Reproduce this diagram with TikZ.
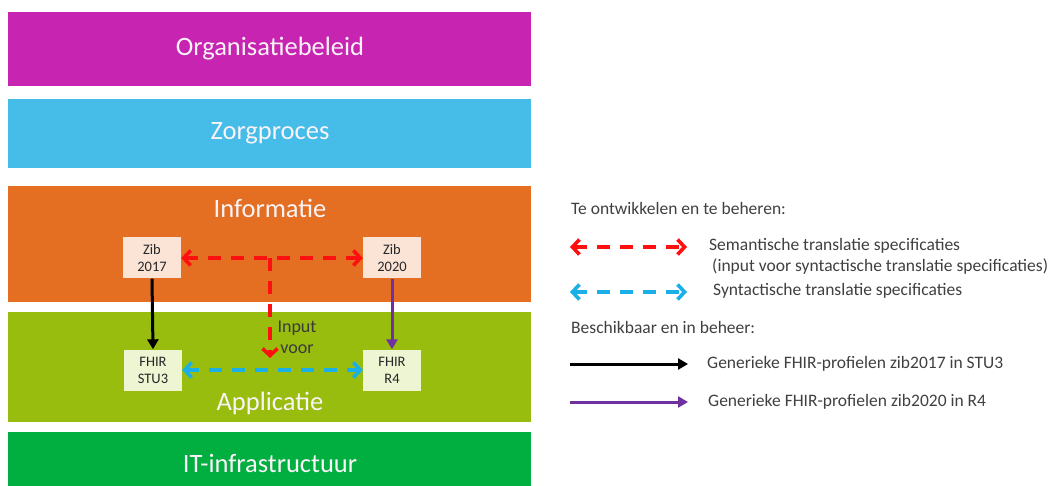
\documentclass[tikz,border=0pt]{standalone}
\usepackage{fontspec}
\setmainfont{Carlito}
\usetikzlibrary{arrows.meta}
\definecolor{cPurple}{HTML}{C724B1}
\definecolor{cBlue}{HTML}{45BDE8}
\definecolor{cOrange}{HTML}{E46F22}
\definecolor{cLime}{HTML}{98BD0E}
\definecolor{cGreen}{HTML}{00AF3F}
\definecolor{cPeach}{HTML}{FBE4D5}
\definecolor{cPale}{HTML}{EEF5D3}
\definecolor{cRed}{HTML}{FF1010}
\definecolor{cSky}{HTML}{1AAFE6}
\definecolor{cViolet}{HTML}{7030A0}
\definecolor{cTxt}{HTML}{404040}
\definecolor{cBandTxt}{HTML}{FAF3F8}
\tikzset{
  band/.style={fill=#1, draw=none},
  bandlabel/.style={text=cBandTxt, font=\fontsize{26.5}{28}\selectfont},
  smallbox/.style={fill=#1, draw=none, minimum width=58pt, minimum height=41pt, inner sep=0pt, align=center, text=black!85, font=\fontsize{14.5}{17}\selectfont},
  dasharrow/.style={draw=#1, line width=3.6pt, dash pattern=on 13pt off 10pt, {Straight Barb[length=7pt,width=15pt,line width=3.6pt]}-{Straight Barb[length=7pt,width=15pt,line width=3.6pt]}},
  onearrow/.style={draw=#1, line width=3.6pt, dash pattern=on 13pt off 10pt, -{Straight Barb[length=7pt,width=15pt,line width=3.6pt]}},
  solidarrow/.style={draw=#1, line width=3pt, -{Triangle[length=10pt,width=11pt]}},
  legtext/.style={anchor=west, text=cTxt, font=\fontsize{17.5}{20}\selectfont, inner sep=0pt},
}
\begin{document}
\begin{tikzpicture}[x=1pt,y=-1pt]
\useasboundingbox (0,0) rectangle (1052,486);
\fill[white] (0,0) rectangle (1052,486);
% bands
\fill[band=cPurple] (8,12) rectangle (531,86);
\fill[band=cBlue] (8,99) rectangle (531,168);
\fill[band=cOrange] (8,186) rectangle (531,302);
\fill[band=cLime] (8,312) rectangle (531,422);
\fill[band=cGreen] (8,432) rectangle (531,486);
\node[bandlabel] (lorg) at (270,49) {Organisatiebeleid};
\node[bandlabel] (lzorg) at (270,133) {Zorgproces};
\node[bandlabel] (linfo) at (270,208) {Informatie};
\node[bandlabel] (lapp) at (270,403) {Applicatie};
\node[bandlabel] (lit) at (270,463) {IT-infrastructuur};
% boxes
\node[smallbox=cPeach] (z17) at (152,258) {Zib\\2017};
\node[smallbox=cPeach] (z20) at (392,258) {Zib\\2020};
\node[smallbox=cPale] (f3) at (153,370) {FHIR\\STU3};
\node[smallbox=cPale] (f4) at (392,370) {FHIR\\R4};
% connectors
\draw[dasharrow=cRed] (z17.east) -- (z20.west);
\coordinate (tjoin) at (270,258);
\coordinate (tend) at (270,358);
\draw[onearrow=cRed] (tjoin) -- (tend);
\draw[dasharrow=cSky] (f3.east) -- (f4.west);
\draw[solidarrow=black] (z17.south) -- (f3.north);
\draw[solidarrow=cViolet] (z20.south) -- (f4.north);
\node[text=cTxt!90!black, align=center, font=\fontsize{18}{21}\selectfont] (inp) at (297,337) {Input\\voor};
% legend
\node[legtext] (lt1) at (571,208) {Te ontwikkelen en te beheren:};
\coordinate (la1) at (570,247); \coordinate (lb1) at (687,247);
\draw[dasharrow=cRed] (la1) -- (lb1);
\node[legtext] (ls1) at (709,246) {Semantische translatie specificaties};
\node[legtext] (ls2) at (712,267) {(input voor syntactische translatie specificaties)};
\coordinate (la2) at (570,292); \coordinate (lb2) at (687,292);
\draw[dasharrow=cSky] (la2) -- (lb2);
\node[legtext] (ls3) at (713,291) {Syntactische translatie specificaties};
\node[legtext] (lt2) at (571,327) {Beschikbaar en in beheer:};
\coordinate (la3) at (570,364); \coordinate (lb3) at (688,364);
\draw[solidarrow=black] (la3) -- (lb3);
\node[legtext] (ls4) at (707,364) {Generieke FHIR-profielen zib2017 in STU3};
\coordinate (la4) at (570,402); \coordinate (lb4) at (688,402);
\draw[solidarrow=cViolet] (la4) -- (lb4);
\node[legtext] (ls5) at (708,402) {Generieke FHIR-profielen zib2020 in R4};
\end{tikzpicture}
\end{document}
